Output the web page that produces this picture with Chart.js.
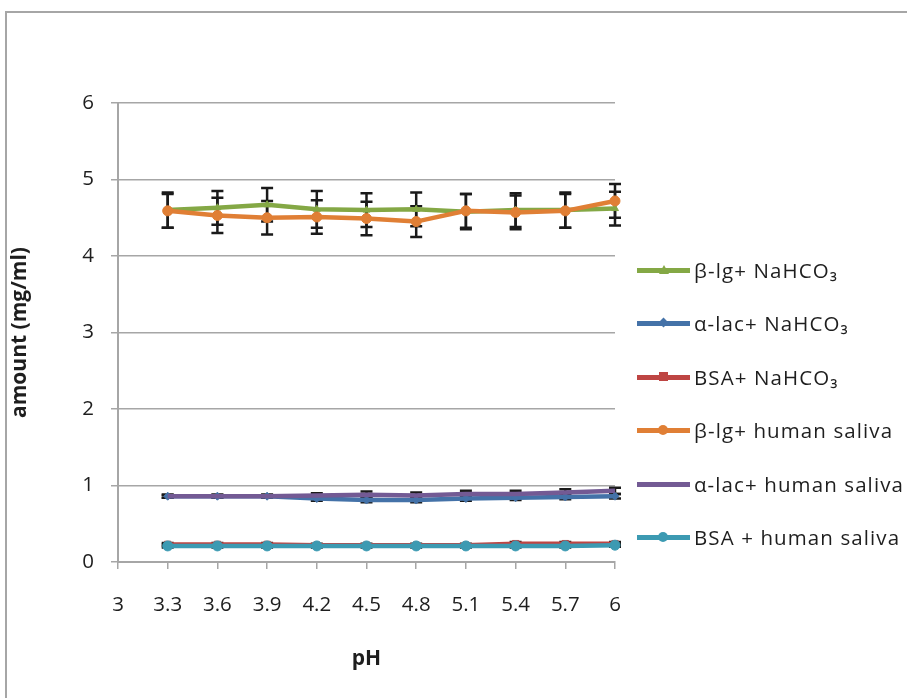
<!DOCTYPE html>
<html>
<head>
<meta charset="utf-8">
<script src="https://cdn.jsdelivr.net/npm/chart.js@4.4.1/dist/chart.umd.min.js"></script>
<style>
  html, body { margin: 0; padding: 0; background: #fff; }
  body { width: 907px; height: 698px; position: relative; overflow: hidden; font-family: "Open Sans", "Liberation Sans", sans-serif; }
  #frame { position: absolute; left: 5px; top: 11px; width: 1000px; height: 1000px; border-left: 2px solid #a6a6a6; border-top: 2px solid #a6a6a6; }
  #wrap { position: absolute; left: 0; top: 0; width: 907px; height: 698px; }
  #legend { position: absolute; left: 637px; top: 0; }
  .item { position: absolute; left: 0; width: 290px; height: 26px; }
  .line { position: absolute; left: 0; top: 11px; width: 53px; height: 5px; }
  .mk { position: absolute; }
  .lbl { position: absolute; left: 57px; top: 0; font-size: 20.5px; letter-spacing: 1.1px; line-height: 26px; color: #1e1e1e; white-space: nowrap; }
</style>
</head>
<body>
<div id="frame"></div>
<div id="wrap"><canvas id="c" width="907" height="698"></canvas></div>
<div id="legend"></div>
<script>
const $ = (id) => document.getElementById(id);

// x categories (pH) — data starts at 3.3
const phLabels = ["3","3.3","3.6","3.9","4.2","4.5","4.8","5.1","5.4","5.7","6"];
const phPoints = phLabels.slice(1);

// series values (mg/ml)
const bLgNa   = [4.60, 4.63, 4.67, 4.61, 4.60, 4.61, 4.58, 4.60, 4.60, 4.62];
const aLacNa  = [0.86, 0.86, 0.86, 0.83, 0.81, 0.81, 0.83, 0.84, 0.85, 0.86];
const bsaNa   = [0.23, 0.23, 0.23, 0.22, 0.22, 0.22, 0.22, 0.24, 0.24, 0.24];
const bLgSal  = [4.59, 4.53, 4.50, 4.51, 4.49, 4.45, 4.59, 4.57, 4.59, 4.72];
const aLacSal = [0.86, 0.86, 0.86, 0.87, 0.88, 0.87, 0.89, 0.89, 0.91, 0.93];
const bsaSal  = [0.21, 0.21, 0.21, 0.21, 0.21, 0.21, 0.21, 0.21, 0.21, 0.22];

// error bar half-widths
const bLgNaErr   = [0.23, 0.22, 0.22, 0.24, 0.22, 0.22, 0.23, 0.22, 0.23, 0.22];
const aLacNaErr  = [0.02, 0.02, 0.02, 0.03, 0.03, 0.03, 0.03, 0.03, 0.03, 0.03];
const bsaNaErr   = [0.02, 0.02, 0.02, 0.02, 0.02, 0.02, 0.02, 0.02, 0.02, 0.02];
const bLgSalErr  = [0.22, 0.23, 0.22, 0.22, 0.22, 0.20, 0.22, 0.22, 0.22, 0.22];
const aLacSalErr = [0.02, 0.02, 0.02, 0.03, 0.04, 0.04, 0.04, 0.04, 0.04, 0.04];
const bsaSalErr  = [0.02, 0.02, 0.02, 0.02, 0.02, 0.02, 0.02, 0.02, 0.02, 0.02];

const yTicks = [0, 1, 2, 3, 4, 5, 6];

const series = [
  { label: "β-lg+ NaHCO₃",        data: bLgNa,   err: bLgNaErr,   color: "#84a845", marker: "triangle", r: 4 },
  { label: "α-lac+ NaHCO₃",       data: aLacNa,  err: aLacNaErr,  color: "#4472a8", marker: "rectRot",  r: 4 },
  { label: "BSA+ NaHCO₃",         data: bsaNa,   err: bsaNaErr,   color: "#be4543", marker: "rect",     r: 4.5 },
  { label: "β-lg+ human saliva",  data: bLgSal,  err: bLgSalErr,  color: "#e07f35", marker: "circle",   r: 5 },
  { label: "α-lac+ human saliva", data: aLacSal, err: aLacSalErr, color: "#735a94", marker: null,       r: 0 },
  { label: "BSA + human saliva",  data: bsaSal,  err: bsaSalErr,  color: "#3c9ab2", marker: "circle",   r: 5 }
];

const gridGray = "#a6a6a6";
const font = "'Open Sans', 'Liberation Sans', sans-serif";
const txt = "#1e1e1e";

// error bars drawn under the lines
const errorBars = {
  id: "errorBars",
  beforeDatasetsDraw(chart){
    const { ctx, scales: { x, y } } = chart;
    ctx.save();
    ctx.strokeStyle = "#1a1a1a";
    ctx.lineWidth = 2.5;
    chart.data.datasets.forEach((ds) => {
      ds.data.forEach((p, i) => {
        const e = ds.errors[i];
        const px = x.getPixelForValue(phLabels.indexOf(p.x));
        const yt = y.getPixelForValue(p.y + e);
        const yb = y.getPixelForValue(p.y - e);
        ctx.beginPath();
        ctx.moveTo(px, yt); ctx.lineTo(px, yb);
        ctx.moveTo(px - 6, yt); ctx.lineTo(px + 6, yt);
        ctx.moveTo(px - 6, yb); ctx.lineTo(px + 6, yb);
        ctx.stroke();
      });
    });
    ctx.restore();
  }
};

new Chart($("c"), {
  type: "line",
  data: {
    labels: phLabels,
    datasets: series.map((s, i) => ({
      label: s.label,
      data: phPoints.map((p, k) => ({ x: p, y: s.data[k] })),
      errors: s.err,
      borderColor: s.color,
      backgroundColor: s.color,
      borderWidth: 4.5,
      pointStyle: s.marker || false,
      pointRadius: s.r,
      pointBorderWidth: 1,
      tension: 0,
      order: series.length - i
    }))
  },
  options: {
    responsive: false,
    animation: false,
    events: [],
    layout: { padding: { left: 0, right: 292, top: 103, bottom: 0 } },
    plugins: { legend: { display: false }, tooltip: { enabled: false } },
    scales: {
      x: {
        type: "category",
        offset: false,
        afterFit(s){ s.height = 136; },
        grid: { display: true, drawOnChartArea: false, drawTicks: true, tickLength: 7, color: gridGray, lineWidth: 1.5 },
        border: { display: true, color: gridGray, width: 2 },
        ticks: { color: txt, font: { family: font, size: 20.5 }, padding: 24, maxRotation: 0, autoSkip: false },
        title: { display: true, text: "pH", color: txt, font: { family: font, size: 21, weight: "bold" }, padding: { top: 0, bottom: 26 } }
      },
      y: {
        min: 0, max: 6,
        afterFit(s){ s.width = 118; },
        afterBuildTicks(s){ s.ticks = yTicks.map(v => ({ value: v })); },
        grid: { color: gridGray, lineWidth: 1.5, tickLength: 7 },
        border: { display: true, color: gridGray, width: 2 },
        ticks: { color: txt, font: { family: font, size: 20.5 }, padding: 17 },
        title: { display: true, text: "amount (mg/ml)", color: txt, font: { family: font, size: 21, weight: "bold" }, padding: { top: 7, bottom: 0 } }
      }
    }
  },
  plugins: [errorBars]
});

// legend (html)
const legend = $("legend");
const rowY = [257, 310, 364, 417, 471, 524];
series.forEach((s, i) => {
  const item = document.createElement("div");
  item.className = "item";
  item.style.top = rowY[i] + "px";
  let mk = "";
  if (s.marker === "triangle") mk = `<div class="mk" style="left:22px;top:8px;width:0;height:0;border-left:5px solid transparent;border-right:5px solid transparent;border-bottom:9px solid ${s.color}"></div>`;
  if (s.marker === "rectRot") mk = `<div class="mk" style="left:23px;top:9px;width:7px;height:7px;background:${s.color};transform:rotate(45deg)"></div>`;
  if (s.marker === "rect") mk = `<div class="mk" style="left:22px;top:8px;width:9px;height:9px;background:${s.color}"></div>`;
  if (s.marker === "circle") mk = `<div class="mk" style="left:21px;top:8px;width:10px;height:10px;border-radius:50%;background:${s.color}"></div>`;
  item.innerHTML = `<div class="line" style="background:${s.color}"></div>${mk}<div class="lbl">${s.label}</div>`;
  legend.appendChild(item);
});
</script>
</body>
</html>
